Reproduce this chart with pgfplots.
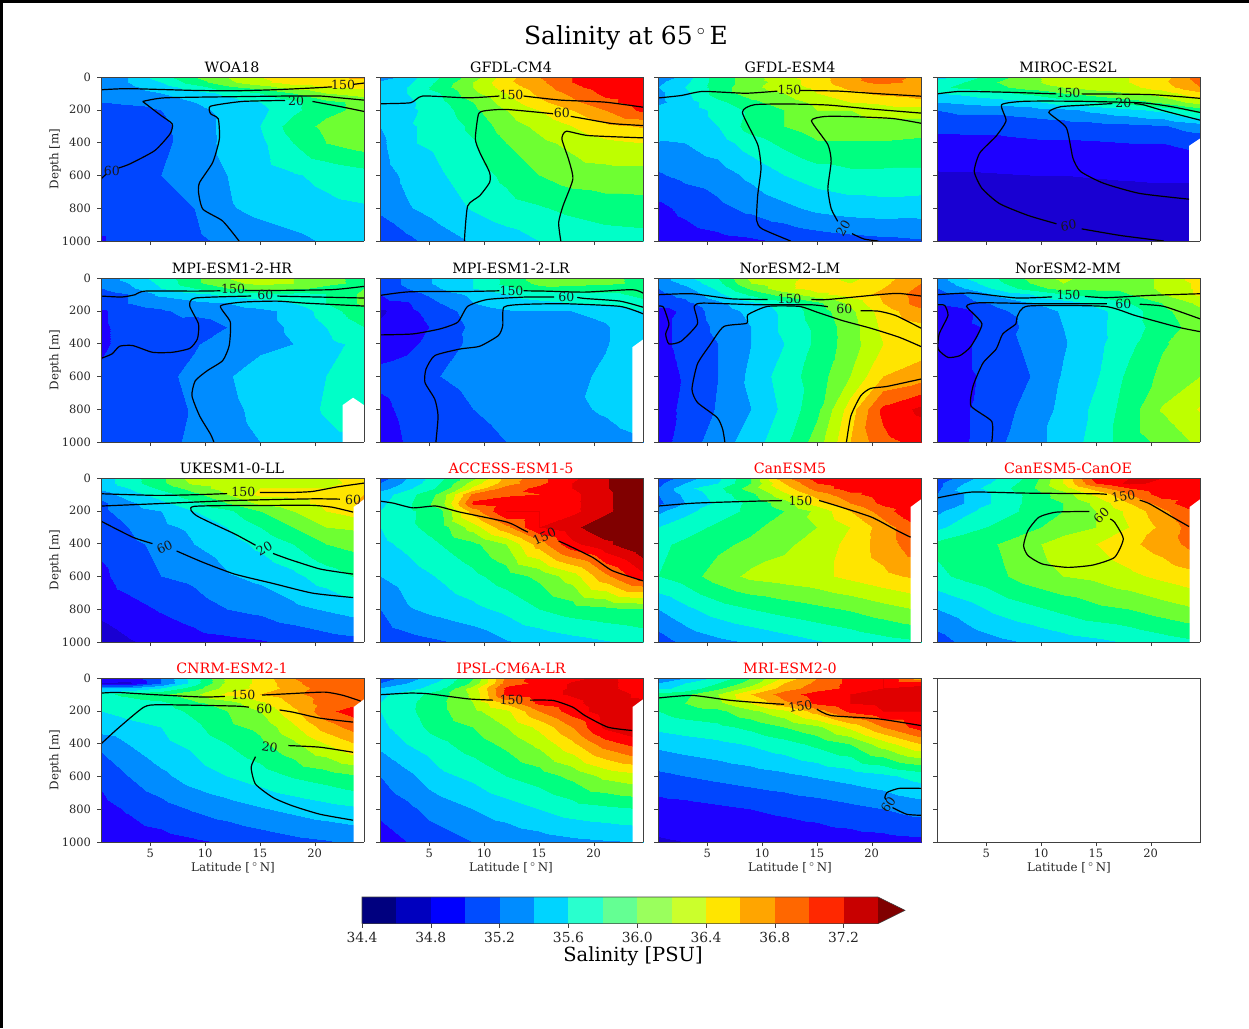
\documentclass[border=0pt]{standalone}
\usepackage{pgfplots}
\pgfplotsset{compat=1.18}
\usepackage{fontspec}
\setmainfont{DejaVu Serif}
\newcommand\fs[1]{\fontsize{#1}{#1}\selectfont}
\definecolor{b0}{RGB}{0,0,127}\definecolor{b1}{RGB}{0,0,191}\definecolor{b2}{RGB}{0,0,255}\definecolor{b3}{RGB}{0,76,255}
\definecolor{b4}{RGB}{0,140,255}\definecolor{b5}{RGB}{0,212,255}\definecolor{b6}{RGB}{41,255,206}\definecolor{b7}{RGB}{100,255,147}
\definecolor{b8}{RGB}{154,255,93}\definecolor{b9}{RGB}{203,255,44}\definecolor{b10}{RGB}{255,229,0}\definecolor{b11}{RGB}{255,165,0}
\definecolor{b12}{RGB}{255,103,0}\definecolor{b13}{RGB}{255,40,0}\definecolor{b14}{RGB}{200,0,0}\definecolor{b15}{RGB}{128,0,0}
\pgfplotsset{
 colormap={sal}{
 rgb255(0cm)=(0,0,127) rgb255(0.999cm)=(0,0,127)
 rgb255(1cm)=(25,0,210) rgb255(1.999cm)=(25,0,210)
 rgb255(2cm)=(30,0,255) rgb255(2.999cm)=(30,0,255)
 rgb255(3cm)=(0,70,255) rgb255(3.999cm)=(0,70,255)
 rgb255(4cm)=(0,140,255) rgb255(4.999cm)=(0,140,255)
 rgb255(5cm)=(0,212,255) rgb255(5.999cm)=(0,212,255)
 rgb255(6cm)=(0,255,200) rgb255(6.999cm)=(0,255,200)
 rgb255(7cm)=(0,255,128) rgb255(7.999cm)=(0,255,128)
 rgb255(8cm)=(110,255,50) rgb255(8.999cm)=(110,255,50)
 rgb255(9cm)=(190,255,0) rgb255(9.999cm)=(190,255,0)
 rgb255(10cm)=(255,229,0) rgb255(10.999cm)=(255,229,0)
 rgb255(11cm)=(255,165,0) rgb255(11.999cm)=(255,165,0)
 rgb255(12cm)=(255,100,0) rgb255(12.999cm)=(255,100,0)
 rgb255(13cm)=(255,0,0) rgb255(13.999cm)=(255,0,0)
 rgb255(14cm)=(224,0,0) rgb255(14.999cm)=(224,0,0)
 rgb255(15cm)=(128,0,0) rgb255(16cm)=(128,0,0)
 },
 pan/.style 2 args={at={(#1*0.75pt,-#2*0.75pt)},anchor=north west,
  width=197.25pt,height=123pt,scale only axis,view={0}{90},
  xmin=0.5,xmax=24.5,ymin=0,ymax=1000,y dir=reverse,
  xtick={5,10,15,20},ytick={0,200,400,600,800,1000},
  tick align=outside,major tick length=3pt,
  xtick pos=lower,ytick pos=left,
  xticklabel pos=lower,
  xticklabels={},yticklabels={},
  axis on top,axis line style={black!75},tick style={black!75},
  colormap name=sal,point meta min=34.4,point meta max=37.6,
  scaled ticks=false,
  tick label style={font=\fs{8.6},text=black!85},
  /pgf/number format/assume math mode=true,/pgf/number format/1000 sep={},
  xticklabel style={yshift=1.5pt},yticklabel style={xshift=-1pt},
  },
 lft/.style={yticklabels={0,200,400,600,800,1000}},
 bot/.style={xticklabels={5,10,15,20}},
}
\def\LAT#1{\ifcase#1\or0.5\or3\or6\or9\or12\or15\or18\or21\or24.5\fi}
\def\DEP#1{\ifcase#1\or0\or30\or60\or100\or150\or200\or300\or400\or600\or800\or1000\fi}
\newcommand\sal[1]{\gdef\C{}\foreach\r[count=\j] in {#1}{\foreach\v[count=\i] in \r{\xdef\C{\C(\LAT\i,\DEP\j,\v)}}}%
 \edef\cmd{\noexpand\addplot3[surf,shader=interp,mesh/cols=9] coordinates {\C};}\cmd}
\newcommand\ct[1]{\addplot3[black,line width=0.9pt,no marks,smooth,tension=0.35,unbounded coords=jump] table[row sep=crcr,header=false,x index=0,y index=1,z expr=0]{#1};}
\newcommand\wh[1]{\addplot3[fill=white,draw=none] table[row sep=crcr,header=false,x index=0,y index=1,z expr=0]{#1} --cycle;}
\newcommand\lb[4]{\node[font=\fs{9.4},inner sep=0pt,rotate=#4,text=black!90] at (axis cs:#1,#2,0) {#3};}
\newcommand\cb[3]{\addplot[draw=none,fill=#1] coordinates {(#2,0)(#3,0)(#3,1)(#2,1)} --cycle;}
\begin{document}
\begin{tikzpicture}
\begin{scope}[x=0.75pt,y=-0.75pt]
\path[use as bounding box] (0,0) rectangle (1249,1028);
\fill[black] (0,0) rectangle (1249,2.5);
\fill[black] (0,0) rectangle (3,1028);
\node[font=\fs{18.7}] at (626,37.5) {Salinity at 65\,$^\circ$\,E};
\foreach \x/\y/\t/\c in {232/67/WOA18/black,511/67/GFDL-CM4/black,790/67/GFDL-ESM4/black,1068/67/MIROC-ES2L/black,
 232/268/MPI-ESM1-2-HR/black,511/268/MPI-ESM1-2-LR/black,790/268/NorESM2-LM/black,1068/268/NorESM2-MM/black,
 232/468/UKESM1-0-LL/black,511/468/ACCESS-ESM1-5/red,790/468/CanESM5/red,1068/468/CanESM5-CanOE/red,
 232/668/CNRM-ESM2-1/red,511/668/IPSL-CM6A-LR/red,790/668/MRI-ESM2-0/red}
 {\node[font=\fs{10.7},text=\c,inner sep=0pt] at (\x,\y) {\t};}
\foreach \y in {159,360,560,760} {\node[font=\fs{8.9},rotate=90,text=black!85] at (55,\y) {Depth [m]};}
\foreach \x in {233,511,790,1069} {\node[font=\fs{8.9},text=black!85,inner sep=0pt] at (\x,868) {Latitude [\,$^\circ$\,N]};}
\node[font=\fs{14.6}] at (633,956) {Salinity [PSU]};
\end{scope}

% WOA18
\begin{axis}[pan={101}{77},lft]
\sal{{35.3,35.4,35.7,36.0,36.2,36.4,36.5,36.55,36.65},
{35.3,35.4,35.6,35.9,36.15,36.35,36.5,36.5,36.5},
{35.3,35.35,35.5,35.7,35.95,36.1,36.3,36.4,36.45},
{35.25,35.3,35.4,35.5,35.65,35.8,36.0,36.2,36.3},
{35.2,35.25,35.3,35.4,35.5,35.6,35.75,35.95,36.05},
{35.05,35.1,35.2,35.35,35.45,35.55,35.75,35.95,36.05},
{35.05,35.05,35.15,35.3,35.45,35.6,35.9,36.05,36.2},
{35.05,35.1,35.15,35.3,35.45,35.55,35.8,36.0,36.1},
{35.05,35.1,35.2,35.3,35.4,35.5,35.58,35.65,35.72},
{35.05,35.05,35.1,35.2,35.38,35.45,35.5,35.55,35.58},
{34.99,35.05,35.1,35.15,35.25,35.3,35.35,35.42,35.48}}
\ct{0.5 78\\3 71\\9.1 82\\12.7 84\\16.2 78\\19.8 67\\21.6 60\\nan nan\\23.5 45\\24.5 37\\}
\ct{0.5 622\\1 590\\nan nan\\2.1 555\\3.1 531\\5.4 449\\6.8 347\\7 286\\5.9 231\\4.3 149\\nan nan\\4.3 149\\6.3 127\\12.7 120\\17.6 116\\20.5 116\\22.6 129\\24.5 141\\}
\ct{13.1 1000\\11.6 878\\9.8 806\\9.4 704\\9.5 643\\10.7 520\\11.3 378\\11.2 255\\10.5 224\\10.5 178\\13.4 149\\17.3 143\\nan nan\\19.8 149\\22.6 184\\24.5 210\\}
\lb{22.6}{50}{150}{0}\lb{1.5}{575}{60}{0}\lb{18.3}{145}{20}{0}
\end{axis}
% GFDL-CM4
\begin{axis}[pan={380}{77}]
\sal{{35.25,35.5,35.8,36.1,36.5,36.8,37.0,37.1,37.1},
{35.45,35.55,35.85,36.2,36.55,36.75,37.0,37.15,37.15},
{35.5,35.6,35.9,36.2,36.5,36.7,36.95,37.1,37.15},
{35.5,35.6,35.8,36.15,36.4,36.65,36.85,37.05,37.1},
{35.45,35.55,35.75,36.0,36.3,36.55,36.75,36.95,37.1},
{35.42,35.55,35.7,35.95,36.2,36.4,36.6,36.8,37.05},
{35.4,35.58,35.65,35.85,36.1,36.25,36.4,36.55,36.62},
{35.35,35.58,35.65,35.78,36.0,36.15,36.25,36.35,36.4},
{35.3,35.45,35.58,35.7,35.85,36.0,36.1,36.12,36.12},
{35.25,35.38,35.5,35.62,35.72,35.78,35.85,35.9,35.92},
{35.0,35.15,35.3,35.42,35.5,35.6,35.65,35.7,35.72}}
\ct{0.5 163\\3.3 157\\4.4 116\\8.5 127\\11.4 116\\nan nan\\13.6 116\\17 141\\21 153\\24.5 184\\}
\ct{8.2 1000\\8.5 786\\9.6 724\\10.5 643\\10.5 582\\9.6 459\\9.2 378\\9.5 224\\10.3 204\\12.1 198\\16.3 224\\nan nan\\17.9 240\\19.2 255\\21.7 284\\24.5 296\\}
\ct{17 1000\\16.8 888\\17.2 786\\18.1 622\\17.7 500\\17.1 378\\17.5 331\\19.5 357\\24.5 371\\}
\lb{12.5}{112}{150}{0}\lb{17.1}{222}{60}{0}
\end{axis}
% GFDL-ESM4
\begin{axis}[pan={658}{77}]
\sal{{35.2,35.5,35.9,36.1,36.35,36.5,36.75,36.9,36.75},
{35.35,35.55,35.9,36.1,36.3,36.5,36.75,36.85,36.75},
{35.4,35.6,35.9,36.15,36.3,36.45,36.65,36.7,36.7},
{35.35,35.55,35.9,36.1,36.2,36.4,36.55,36.65,36.7},
{35.35,35.5,35.75,35.95,36.1,36.25,36.4,36.45,36.55},
{35.5,35.5,35.65,35.85,36.0,36.2,36.2,36.3,36.3},
{35.6,35.5,35.6,35.9,36.0,36.1,36.1,36.1,36.1},
{35.38,35.4,35.5,35.7,35.85,35.98,35.98,35.98,35.95},
{35.18,35.25,35.3,35.45,35.6,35.7,35.75,35.75,35.75},
{34.95,35.05,35.15,35.25,35.35,35.45,35.5,35.52,35.5},
{34.85,34.9,34.94,34.97,35.02,35.08,35.12,35.15,35.18}}
\ct{0.5 128\\2.6 113\\4.6 88\\8.5 99\\11.4 86\\nan nan\\13.4 82\\17 86\\19.9 99\\24.5 117\\}
\ct{12.6 1000\\10 926\\9.5 875\\9.6 720\\9.9 556\\9.6 412\\8.2 216\\9.3 169\\12.7 165\\16 171\\19.9 195\\24.5 220\\}
\ct{20.6 1000\\19.3 988\\18.2 955\\nan nan\\16.9 880\\16.3 802\\16 679\\16.3 514\\16 412\\14.5 267\\15.7 241\\18 241\\21.9 253\\24.5 282\\}
\lb{12.5}{78}{150}{0}\lb{17.4}{920}{20}{60}
\end{axis}
% MIROC-ES2L
\begin{axis}[pan={937}{77}]
\sal{{35.5,35.7,35.9,36.15,36.3,36.35,36.4,36.5,36.9},
{35.7,35.8,36.0,36.15,36.3,36.35,36.4,36.55,36.85},
{35.75,35.85,35.95,36.1,36.2,36.3,36.35,36.5,36.8},
{35.6,35.65,35.75,35.85,36.0,36.1,36.2,36.3,36.55},
{35.4,35.45,35.5,35.55,35.7,35.8,35.9,36.05,36.3},
{35.2,35.25,35.25,35.3,35.35,35.45,35.55,35.65,35.9},
{35.05,35.05,35.05,35.08,35.1,35.12,35.15,35.18,35.3},
{34.93,34.95,34.95,34.97,34.97,34.98,35.0,35.0,35.05},
{34.78,34.78,34.79,34.8,34.8,34.81,34.82,34.83,34.83},
{34.7,34.7,34.7,34.7,34.7,34.7,34.7,34.7,34.7},
{34.65,34.65,34.65,34.65,34.65,34.65,34.65,34.65,34.65}}
\wh{23.5 1000\\23.5 420\\24.5 375\\24.5 1000\\}
\ct{0.5 103\\2.6 88\\6.9 93\\11.4 103\\nan nan\\13.7 103\\19.9 107\\24.5 130\\}
\ct{21.2 1000\\17.3 967\\13.7 926\\nan nan\\11.4 895\\8.8 844\\6.2 772\\4.6 679\\3.9 576\\4.4 463\\5.9 360\\6.8 267\\6.4 169\\8.5 148\\13.4 148\\19.3 158\\21.9 181\\24.5 216\\}
\ct{23.5 745\\19 710\\15.7 648\\13.6 576\\12.9 494\\12.3 309\\10.7 216\\11.8 181\\14.7 169\\16.5 162\\nan nan\\18.5 162\\19.3 169\\21.2 206\\24.5 263\\}
\lb{12.5}{99}{150}{0}\lb{12.5}{905}{60}{8}\lb{17.5}{160}{20}{0}
\end{axis}
% MPI-ESM1-2-HR
\begin{axis}[pan={101}{278},lft]
\sal{{35.3,35.45,35.7,35.95,36.2,36.3,36.2,36.05,35.95},
{35.3,35.4,35.65,35.95,36.15,36.25,36.2,36.05,35.95},
{35.2,35.35,35.6,35.8,36.0,36.1,36.05,35.95,36.0},
{35.1,35.2,35.45,35.55,35.65,35.75,35.75,35.8,36.05},
{35.15,35.2,35.25,35.35,35.4,35.5,35.6,35.8,36.05},
{34.95,35.15,35.18,35.25,35.3,35.35,35.45,35.7,35.95},
{34.95,35.1,35.12,35.1,35.2,35.35,35.42,35.6,35.8},
{34.95,35.1,35.15,35.18,35.3,35.35,35.4,35.55,35.65},
{35.05,35.1,35.15,35.25,35.38,35.5,35.55,35.6,35.65},
{35.05,35.1,35.12,35.22,35.35,35.45,35.52,35.62,35.7},
{35.05,35.08,35.12,35.25,35.33,35.4,35.48,35.55,35.55}}
\wh{22.55 1000\\22.55 775\\23.5 730\\24.5 775\\24.5 1000\\}
\ct{0.5 110\\2.4 116\\3.6 102\\4.5 80\\9.1 80\\11.4 78\\nan nan\\13.6 76\\16.2 76\\21.6 71\\24.5 51\\}
\ct{0.5 490\\1.5 463\\2.2 416\\3.4 412\\5.2 453\\7 453\\8.6 429\\9.3 371\\9.4 280\\8.6 171\\9.1 122\\14.2 110\\nan nan\\16.6 110\\17.6 112\\24.5 122\\}
\ct{10.8 1000\\10.5 953\\9.5 841\\8.8 718\\9.1 627\\10.2 565\\11.6 504\\12.2 412\\12.3 269\\11.4 171\\13.4 147\\16.6 141\\19.1 153\\24.5 171\\}
\lb{12.55}{69}{150}{0}\lb{15.5}{106}{60}{0}
\end{axis}
% MPI-ESM1-2-LR
\begin{axis}[pan={380}{278}]
\sal{{35.05,35.25,35.45,35.6,35.85,36.1,36.1,36.05,35.95},
{35.05,35.25,35.45,35.6,35.85,36.05,36.1,36.05,35.95},
{35.05,35.2,35.4,35.6,35.75,35.95,35.9,35.9,35.9},
{35.0,35.1,35.3,35.45,35.6,35.7,35.75,35.75,35.85},
{34.95,34.98,35.2,35.4,35.5,35.55,35.6,35.65,35.75},
{34.75,34.95,35.1,35.3,35.38,35.38,35.4,35.45,35.6},
{34.85,34.9,35.05,35.25,35.33,35.33,35.33,35.38,35.55},
{34.92,34.95,35.1,35.25,35.3,35.3,35.33,35.38,35.6},
{35.05,35.1,35.2,35.27,35.3,35.3,35.33,35.45,35.65},
{34.95,35.05,35.1,35.2,35.27,35.32,35.37,35.42,35.5},
{34.9,35.02,35.08,35.12,35.2,35.25,35.3,35.33,35.38}}
\wh{23.53 1000\\23.53 422\\24.5 375\\24.5 1000\\}
\ct{0.5 106\\3.2 84\\8.5 82\\11.4 78\\nan nan\\13.6 78\\15.6 80\\19.2 86\\23.5 71\\24.5 92\\}
\ct{0.5 347\\3.5 341\\6 310\\7.6 269\\8.5 173\\10.3 131\\13.8 116\\16.4 116\\nan nan\\18.5 118\\19.2 125\\22.4 141\\24.5 178\\}
\ct{5.6 1000\\5.8 841\\5.5 739\\4.6 637\\4.7 555\\5.5 473\\7.8 433\\9.6 416\\11.3 351\\11.7 290\\11.8 178\\13.5 161\\17.4 157\\22.4 173\\24.5 218\\}
\lb{12.5}{76}{150}{0}\lb{17.5}{116}{60}{0}
\end{axis}
% NorESM2-LM
\begin{axis}[pan={658}{278}]
\sal{{35.3,35.55,35.8,36.25,36.3,36.5,36.35,36.5,36.8},
{35.25,35.45,35.75,36.2,36.35,36.5,36.4,36.55,36.8},
{35.2,35.35,35.65,36.05,36.35,36.5,36.5,36.6,36.85},
{35.15,35.25,35.55,35.85,36.1,36.35,36.5,36.65,36.9},
{35.1,35.15,35.35,35.55,35.7,35.95,36.25,36.6,36.9},
{34.9,35.05,35.3,35.45,35.65,35.9,36.15,36.5,36.75},
{34.95,35.05,35.25,35.4,35.65,35.85,36.1,36.45,36.55},
{34.95,35.05,35.2,35.4,35.6,35.85,36.1,36.4,36.5},
{34.92,35.02,35.2,35.45,35.7,35.9,36.2,36.6,36.7},
{34.9,35.05,35.22,35.4,35.65,35.95,36.5,37.05,37.25},
{34.9,35.1,35.3,35.5,35.75,36.1,36.6,36.95,37.05}}
\ct{0.5 102\\3.6 96\\7.2 127\\10.5 131\\nan nan\\14.5 131\\16 131\\20.9 100\\22.5 94\\24.5 110\\}
\ct{0.5 171\\1 178\\1.5 280\\1.2 341\\1.5 402\\2.6 386\\4.1 280\\3.8 173\\4.6 153\\9.5 163\\14.4 163\\16 175\\nan nan\\19 200\\20.6 202\\22.2 229\\24.5 306\\}
\ct{24.5 418\\22.5 361\\19.9 306\\17.3 259\\15 208\\13.4 173\\10.5 173\\8.7 224\\8.6 276\\6.5 296\\5.2 412\\4.1 524\\3.6 678\\4.1 759\\5.9 851\\6.4 922\\6.6 1000\\}
\ct{17.7 1000\\18.1 841\\19 718\\19.9 673\\21.4 661\\24.5 616\\}
\lb{12.5}{127}{150}{0}\lb{17.5}{188}{60}{0}
\end{axis}
% NorESM2-MM
\begin{axis}[pan={937}{278}]
\sal{{35.3,35.6,35.8,36.05,36.25,36.1,36.05,36.25,36.5},
{35.25,35.5,35.75,36.0,36.2,36.1,36.05,36.25,36.45},
{35.2,35.4,35.65,35.9,36.1,36.05,36.05,36.25,36.45},
{35.1,35.2,35.45,35.6,35.8,35.9,36.0,36.2,36.45},
{35.05,35.1,35.25,35.4,35.5,35.65,35.8,36.0,36.25},
{34.85,34.95,35.15,35.3,35.42,35.55,35.7,35.95,36.15},
{34.9,34.95,35.05,35.28,35.4,35.55,35.7,35.9,36.1},
{34.95,34.97,35.1,35.25,35.38,35.55,35.75,35.98,36.1},
{34.95,34.97,35.05,35.2,35.42,35.58,35.85,36.05,36.2},
{34.95,34.98,35.1,35.28,35.45,35.65,35.9,36.22,36.42},
{34.95,34.98,35.15,35.35,35.45,35.7,35.9,36.05,36.25}}
\ct{0.5 102\\3.6 92\\7.8 122\\11 115\\nan nan\\14 112\\16 120\\19.9 106\\24.5 96\\}
\ct{0.5 163\\1.2 167\\1.5 229\\0.7 341\\0.6 433\\1.5 484\\2.6 473\\3.6 416\\4.6 280\\3.2 173\\4.4 151\\10.1 157\\16 157\\nan nan\\19 160\\21.2 173\\24.5 249\\}
\ct{24.5 327\\22.5 300\\18.6 229\\15.8 173\\8.8 171\\7.8 239\\7.7 280\\6.5 341\\5.9 433\\4.7 518\\3.8 657\\3.6 780\\5.5 875\\5.5 1000\\}
\lb{12.5}{106}{150}{0}\lb{17.5}{157}{60}{0}
\end{axis}
% UKESM1-0-LL
\begin{axis}[pan={101}{478},lft]
\sal{{35.5,35.7,35.95,36.3,36.3,36.35,36.3,36.35,36.55},
{35.5,35.7,35.95,36.25,36.3,36.35,36.3,36.3,36.55},
{35.45,35.6,35.85,36.1,36.3,36.4,36.4,36.4,36.55},
{35.3,35.5,35.7,35.95,36.2,36.45,36.45,36.45,36.6},
{35.15,35.35,35.55,35.75,36.0,36.25,36.35,36.45,36.65},
{35.15,35.3,35.4,35.6,35.75,36.0,36.2,36.4,36.5},
{35.05,35.2,35.35,35.45,35.6,35.8,36.0,36.2,36.25},
{35.05,35.15,35.25,35.4,35.5,35.65,35.8,36.0,36.1},
{34.95,35.1,35.2,35.25,35.38,35.45,35.55,35.7,35.85},
{34.85,34.92,35.02,35.1,35.2,35.25,35.35,35.42,35.5},
{34.7,34.78,34.85,34.92,34.95,34.98,35.03,35.1,35.15}}
\wh{23.55 1000\\23.55 177\\24.5 130\\24.5 1000\\}
\ct{0.5 96\\5.5 106\\9.1 102\\12 95\\nan nan\\15 88\\18 88\\19.8 82\\22 55\\24.5 31\\}
\ct{0.5 171\\5.5 157\\12.7 137\\19.8 127\\22.3 129\\}
\ct{23.5 208\\21.6 178\\19.8 167\\16.2 167\\9 173\\9.2 229\\12.7 341\\14.6 410\\nan nan\\16.2 460\\17.6 494\\20.5 555\\23.5 586\\}
\ct{0.5 263\\3.4 361\\5.2 400\\nan nan\\7.4 445\\9.8 514\\12.7 586\\16.2 643\\19.8 702\\23.5 729\\}
\lb{13.5}{86}{150}{0}\lb{23.5}{135}{60}{0}\lb{15.4}{433}{20}{30}\lb{6.3}{422}{60}{25}
\end{axis}
% ACCESS-ESM1-5
\begin{axis}[pan={380}{478}]
\sal{{35.1,35.4,35.75,36.15,36.65,36.95,37.15,37.38,37.6},
{35.2,35.45,35.8,36.3,36.7,36.95,37.2,37.38,37.6},
{35.3,35.55,35.85,36.45,36.9,37.05,37.2,37.38,37.6},
{35.5,35.7,36.05,36.85,36.95,37.0,37.15,37.35,37.6},
{35.55,35.75,36.1,37.05,37.15,37.15,37.15,37.35,37.6},
{35.6,35.75,35.95,36.7,37.2,37.2,37.15,37.35,37.6},
{35.6,35.75,35.9,36.3,36.75,37.2,37.35,37.55,37.65},
{35.55,35.65,35.8,35.95,36.2,36.7,37.15,37.35,37.6},
{35.4,35.5,35.62,35.75,35.9,36.05,36.3,36.75,37.15},
{35.2,35.38,35.47,35.55,35.65,35.8,35.9,35.95,36.0},
{35.05,35.12,35.18,35.25,35.38,35.45,35.52,35.58,35.65}}
\ct{0.5 141\\1.7 153\\3.5 182\\5.6 171\\7.8 208\\12.1 269\\13.5 314\\14 330\\nan nan\\16.8 385\\17.4 402\\19.9 484\\21.7 565\\24.5 627\\}
\lb{15.5}{355}{150}{25}
\end{axis}
% CanESM5
\begin{axis}[pan={658}{478}]
\sal{{35.05,35.3,35.55,36.0,36.75,37.1,37.15,37.15,37.15},
{35.15,35.4,35.6,36.0,36.6,37.0,37.1,37.15,37.15},
{35.2,35.55,35.75,36.1,36.5,36.9,37.1,37.1,37.15},
{35.2,35.45,35.7,35.95,36.35,36.7,36.95,37.1,37.15},
{35.15,35.4,35.65,35.85,36.1,36.5,36.8,37.05,37.2},
{35.35,35.55,35.7,35.85,36.0,36.25,36.6,36.9,37.25},
{35.6,35.7,35.85,35.95,36.1,36.2,36.4,36.7,37.0},
{35.75,35.85,35.95,36.05,36.15,36.3,36.45,36.7,36.95},
{35.8,35.9,36.1,36.25,36.3,36.35,36.45,36.55,36.65},
{35.4,35.55,35.7,35.8,35.88,35.95,36.02,36.12,36.22},
{35.1,35.25,35.35,35.42,35.5,35.58,35.65,35.72,35.78}}
\wh{23.55 1000\\23.55 177\\24.5 130\\24.5 1000\\}
\ct{0.5 171\\3.9 153\\9.5 141\\11.8 138\\nan nan\\15.2 137\\16.7 167\\20 239\\22.3 320\\23.55 361\\}
\lb{13.5}{137}{150}{0}
\end{axis}
% CanESM5-CanOE
\begin{axis}[pan={937}{478}]
\sal{{35.05,35.3,35.6,35.85,36.4,37.1,37.2,37.2,37.2},
{35.15,35.4,35.65,35.9,36.4,37.0,37.25,37.15,37.15},
{35.15,35.5,35.7,35.95,36.3,36.7,37.0,37.15,37.15},
{35.2,35.4,35.65,35.85,36.1,36.45,36.8,37.1,37.15},
{35.25,35.4,35.65,35.85,36.0,36.25,36.6,36.9,37.2},
{35.35,35.55,35.7,35.85,36.0,36.2,36.45,36.75,37.05},
{35.55,35.7,35.85,35.95,36.1,36.2,36.4,36.65,36.95},
{35.85,35.95,36.0,36.15,36.3,36.4,36.55,36.7,36.9},
{35.75,35.85,35.95,36.1,36.2,36.25,36.35,36.45,36.55},
{35.4,35.5,35.65,35.75,35.85,35.95,36.0,36.1,36.2},
{35.1,35.25,35.35,35.42,35.5,35.55,35.62,35.7,35.78}}
\wh{23.55 1000\\23.55 177\\24.5 130\\24.5 1000\\}
\ct{0.5 122\\3.6 86\\8.5 92\\15 96\\16 100\\nan nan\\19 135\\19.9 157\\22 239\\23.5 296\\}
\ct{14.4 204\\11.4 208\\9.8 239\\8.8 320\\8.4 412\\8.8 473\\10.1 524\\12.4 545\\14.7 531\\16.7 484\\17.5 371\\16.7 269\\16.3 250\\}
\lb{17.5}{112}{150}{10}\lb{15.5}{229}{60}{45}
\end{axis}
% CNRM-ESM2-1
\begin{axis}[pan={101}{678},lft,bot]
\sal{{34.85,34.9,35.2,35.7,36.25,36.45,36.8,36.95,36.9},
{34.8,34.75,35.2,35.7,36.25,36.45,36.75,36.95,36.95},
{35.4,35.4,35.6,35.9,36.3,36.45,36.7,36.9,36.95},
{35.75,35.85,35.95,36.15,36.45,36.6,36.75,36.9,36.95},
{35.65,35.7,35.75,35.95,36.1,36.35,36.65,36.9,37.0},
{35.6,35.65,35.7,35.85,36.0,36.2,36.55,36.95,37.15},
{35.5,35.55,35.6,35.75,35.95,36.05,36.35,36.7,36.95},
{35.25,35.4,35.55,35.65,35.8,35.95,36.15,36.4,36.65},
{35.05,35.2,35.35,35.5,35.6,35.7,35.82,35.9,36.0},
{34.93,35.02,35.12,35.22,35.3,35.38,35.45,35.52,35.58},
{34.85,34.88,34.92,34.97,35.02,35.08,35.14,35.18,35.25}}
\wh{23.55 1000\\23.55 177\\24.5 130\\24.5 1000\\}
\ct{0.5 92\\2 88\\5.5 102\\9.8 116\\11.8 112\\nan nan\\15.2 104\\17.6 96\\20.9 86\\22.6 106\\24.2 141\\}
\ct{0.5 402\\2 310\\4.4 178\\5.9 163\\12.7 171\\14 178\\nan nan\\16.8 195\\18 208\\20.5 245\\23.5 269\\}
\ct{23.5 453\\20.5 422\\17.6 412\\nan nan\\14.6 480\\14.2 545\\14.6 647\\16.2 729\\18 780\\20.5 831\\23.5 867\\}
\lb{13.5}{106}{150}{0}\lb{15.4}{188}{60}{0}\lb{15.9}{422}{20}{-10}
\end{axis}
% IPSL-CM6A-LR
\begin{axis}[pan={380}{678},bot]
\sal{{35.05,35.3,35.55,36.0,36.85,37.1,37.15,37.25,37.1},
{35.2,35.4,35.65,36.05,36.9,37.05,37.22,37.25,37.1},
{35.4,35.5,35.75,36.3,37.05,37.1,37.22,37.25,37.1},
{35.55,35.7,35.9,36.25,37.05,37.15,37.22,37.3,37.15},
{35.6,35.75,35.95,36.2,36.65,37.05,37.15,37.3,37.25},
{35.6,35.75,35.95,36.15,36.35,36.8,37.1,37.3,37.3},
{35.55,35.7,35.9,36.0,36.2,36.45,36.8,37.25,37.45},
{35.45,35.6,35.75,35.9,36.05,36.25,36.55,36.9,37.1},
{35.2,35.35,35.55,35.65,35.8,35.9,36.05,36.25,36.35},
{35.05,35.15,35.3,35.4,35.5,35.6,35.7,35.75,35.8},
{34.9,35.0,35.1,35.2,35.25,35.3,35.35,35.38,35.4}}
\wh{23.55 1000\\23.55 177\\24.5 130\\24.5 1000\\}
\ct{0.5 102\\3.2 92\\4.9 96\\8.5 127\\10.8 135\\nan nan\\14.2 135\\16.3 137\\18.1 178\\19.2 229\\21.3 300\\23.5 320\\}
\lb{12.5}{131}{150}{0}
\end{axis}
% MRI-ESM2-0
\begin{axis}[pan={658}{678},bot]
\sal{{35.15,35.4,35.65,36.0,36.45,36.8,37.05,37.2,36.7},
{35.4,35.6,35.8,36.1,36.6,36.85,37.05,37.2,37.15},
{35.55,35.65,35.95,36.3,36.7,36.9,37.05,37.2,37.25},
{35.85,35.95,36.2,36.6,36.9,37.1,37.2,37.25,37.25},
{35.95,36.0,36.15,36.4,36.75,37.05,37.2,37.25,37.25},
{35.8,35.9,35.95,36.15,36.35,36.7,37.05,37.2,37.2},
{35.65,35.7,35.75,35.85,36.0,36.15,36.45,36.8,37.1},
{35.45,35.5,35.55,35.62,35.72,35.85,36.0,36.3,36.6},
{35.15,35.2,35.25,35.3,35.35,35.42,35.48,35.55,35.68},
{34.9,34.92,34.96,35.0,35.04,35.08,35.14,35.2,35.28},
{34.78,34.8,34.82,34.84,34.86,34.88,34.9,34.92,34.95}}
\ct{0.5 122\\3.6 106\\7.2 137\\11.1 157\\12 160\\nan nan\\15 190\\16.3 229\\20.6 249\\24.5 290\\}
\ct{24.5 673\\22.5 673\\21.4 698\\21.2 729\\21.3 740\\nan nan\\21.9 790\\23.2 831\\24.5 837\\}
\lb{13.5}{173}{150}{10}\lb{21.5}{773}{60}{55}
\end{axis}
% empty
\begin{axis}[pan={937}{678},bot]
\end{axis}
% colour bar
\begin{axis}[at={(362*0.75pt,-897*0.75pt)},anchor=north west,width=407.25pt,height=20pt,scale only axis,
 xmin=34.4,xmax=37.557,ymin=0,ymax=1,ytick=\empty,xtick={34.4,34.8,35.2,35.6,36.0,36.4,36.8,37.2},
 axis line style={draw=none},tick align=outside,major tick length=3pt,xtick pos=bottom,tick style={black!75},
 scaled ticks=false,clip=false,
 /pgf/number format/assume math mode=true,/pgf/number format/fixed,/pgf/number format/fixed zerofill,/pgf/number format/precision=1,
 tick label style={font=\fs{10.4},text=black!85}]
\cb{b0}{34.4}{34.6}\cb{b1}{34.6}{34.8}\cb{b2}{34.8}{35.0}\cb{b3}{35.0}{35.2}\cb{b4}{35.2}{35.4}
\cb{b5}{35.4}{35.6}\cb{b6}{35.6}{35.8}\cb{b7}{35.8}{36.0}\cb{b8}{36.0}{36.2}\cb{b9}{36.2}{36.4}
\cb{b10}{36.4}{36.6}\cb{b11}{36.6}{36.8}\cb{b12}{36.8}{37.0}\cb{b13}{37.0}{37.2}\cb{b14}{37.2}{37.4}
\addplot[draw=none,fill=b15] coordinates {(37.4,0)(37.557,0.5)(37.4,1)} --cycle;
\addplot[black!75,no marks] coordinates {(34.4,0)(37.4,0)(37.557,0.5)(37.4,1)(34.4,1)(34.4,0)};
\end{axis}
\end{tikzpicture}
\end{document}
